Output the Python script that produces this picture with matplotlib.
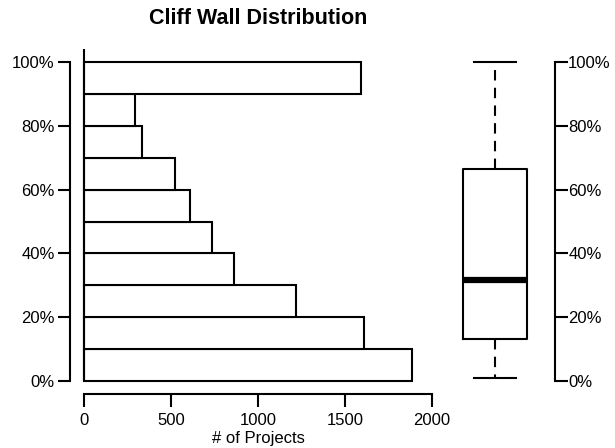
import numpy as np
import matplotlib.pyplot as plt
from matplotlib.ticker import PercentFormatter

plt.rcParams['font.family'] = ['Liberation Sans', 'DejaVu Sans']

# histogram of cliff wall share (10% bins), counts per bin
bin_starts = np.arange(0, 1.0, 0.1)
bin_width = 0.1
counts = [1883, 1607, 1218, 860, 734, 609, 521, 331, 293, 1592]

# summary stats for the box plot
box_stats = [dict(whislo=0.01, q1=0.132, med=0.317, q3=0.664, whishi=1.0)]

pct_ticks = [0, 0.2, 0.4, 0.6, 0.8, 1.0]
count_ticks = [0, 500, 1000, 1500, 2000]

fig = plt.figure(figsize=(6.15, 4.48), dpi=100)
ax = fig.add_axes([0.1138, 0.121, 0.6114, 0.769])
ax2 = fig.add_axes([0.7073, 0.121, 0.1951, 0.769])

lw = 1.5
ax.barh(bin_starts, counts, height=bin_width, align='edge',
        facecolor='white', edgecolor='black', linewidth=lw)
ax.vlines(0, 0, 1.04, color='black', linewidth=lw)
ax.set_xlim(-80, 2080)
ax.set_ylim(-0.04, 1.04)

for s in ['top', 'right']:
    ax.spines[s].set_visible(False)
ax.spines['left'].set_bounds(0, 1)
ax.spines['bottom'].set_bounds(0, 2000)
for s in ['left', 'bottom']:
    ax.spines[s].set_linewidth(lw)

ax.set_yticks(pct_ticks)
ax.yaxis.set_major_formatter(PercentFormatter(1.0, decimals=0))
ax.set_xticks(count_ticks)
ax.tick_params(length=9, width=lw, labelsize=12, pad=2)
ax.tick_params(axis='x', pad=4.5)
ax.set_xlabel('# of Projects', fontsize=12, labelpad=2.5)
ax.set_title('Cliff Wall Distribution', fontsize=15.5, fontweight='bold', pad=18)

# box plot on the right
ax2.bxp(box_stats, positions=[1], widths=0.533, capwidths=0.358,
        showfliers=False,
        boxprops=dict(linewidth=lw, color='black'),
        medianprops=dict(linewidth=4.5, color='black', solid_capstyle='butt'),
        whiskerprops=dict(linewidth=lw, color='black', linestyle=(0, (5, 3.5))),
        capprops=dict(linewidth=lw, color='black'))
ax2.set_xlim(0.5, 1.5)
ax2.set_ylim(-0.04, 1.04)
for s in ['top', 'left', 'bottom']:
    ax2.spines[s].set_visible(False)
ax2.spines['right'].set_bounds(0, 1)
ax2.spines['right'].set_linewidth(lw)
ax2.yaxis.tick_right()
ax2.set_yticks(pct_ticks)
ax2.yaxis.set_major_formatter(PercentFormatter(1.0, decimals=0))
ax2.set_xticks([])
ax2.tick_params(axis='y', length=9, width=lw, labelsize=12, pad=0.5)

fig.savefig('out.png', dpi=100)
